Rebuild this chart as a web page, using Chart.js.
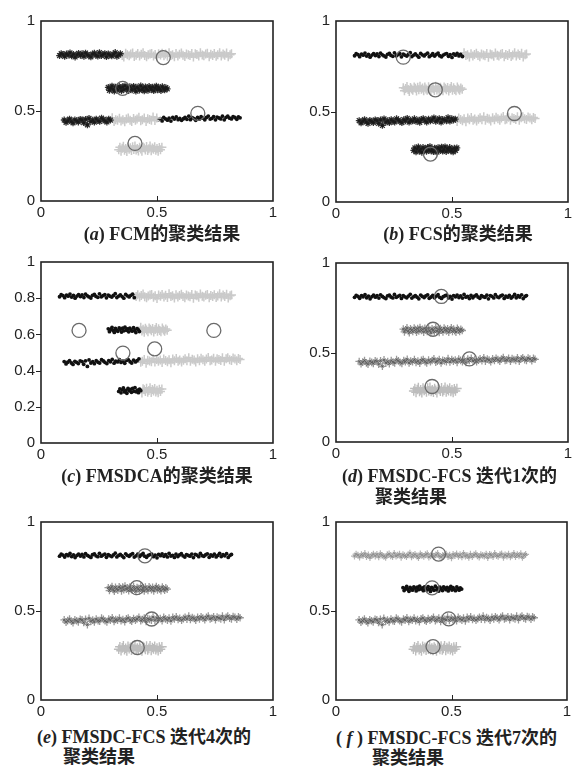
<!DOCTYPE html>
<html>
<head>
<meta charset="utf-8">
<script src="https://cdn.jsdelivr.net/npm/chart.js@4.4.1/dist/chart.umd.min.js"></script>
<style>
  body { margin: 0; background: #fff; width: 583px; height: 766px; position: relative; overflow: hidden; }
  .panel { position: absolute; }
  .cap { position: absolute; font-family: "Liberation Serif", "Noto Sans CJK SC", serif; font-weight: bold;
         font-size: 18px; line-height: 20px; color: #222; white-space: nowrap; }
</style>
</head>
<body>
<div class="panel" id="pa"><canvas id="ca"></canvas></div>
<div class="panel" id="pb"><canvas id="cb"></canvas></div>
<div class="panel" id="pc"><canvas id="cc"></canvas></div>
<div class="panel" id="pd"><canvas id="cd"></canvas></div>
<div class="panel" id="pe"><canvas id="ce"></canvas></div>
<div class="panel" id="pf"><canvas id="cf"></canvas></div>

<div class="cap" style="left:12px;top:224px;width:300px;text-align:center">(<i>a</i>) FCM的聚类结果</div>
<div class="cap" style="left:308px;top:224px;width:300px;text-align:center">(<i>b</i>) FCS的聚类结果</div>
<div class="cap" style="left:7px;top:466px;width:300px;text-align:center">(<i>c</i>) FMSDCA的聚类结果</div>
<div class="cap" style="left:342px;top:466px">(<i>d</i>) FMSDC-FCS 迭代1次的</div>
<div class="cap" style="left:375px;top:487px">聚类结果</div>
<div class="cap" style="left:37px;top:727px">(<i>e</i>) FMSDC-FCS 迭代4次的</div>
<div class="cap" style="left:63px;top:747px">聚类结果</div>
<div class="cap" style="left:336px;top:728px">( <i>f</i> ) FMSDC-FCS 迭代7次的</div>
<div class="cap" style="left:372px;top:748px">聚类结果</div>

<script>
// tick values
var xTicks = [0, 0.5, 1];
var yTicks = [0, 0.5, 1];
var yTicksFine = [0, 0.2, 0.4, 0.6, 0.8, 1];

// the four strips of samples (same data set in every panel), [x, y]
var row1 = [[0.080,0.808],[0.087,0.819],[0.095,0.814],[0.102,0.803],[0.110,0.817],[0.117,0.811],[0.125,0.823],
  [0.132,0.806],[0.140,0.815],[0.147,0.800],[0.155,0.812],[0.162,0.820],[0.170,0.809],[0.177,0.818],[0.185,0.804],
  [0.192,0.822],[0.200,0.813],[0.207,0.807],[0.215,0.801],[0.222,0.816],[0.230,0.821],[0.237,0.810],[0.245,0.805],
  [0.252,0.824],[0.260,0.808],[0.267,0.814],[0.275,0.819],[0.282,0.802],[0.290,0.817],[0.297,0.811],[0.305,0.806],
  [0.312,0.815],[0.320,0.825],[0.327,0.804],[0.335,0.812],[0.342,0.818],[0.350,0.809],[0.357,0.800],[0.365,0.821],
  [0.372,0.813],[0.380,0.807],[0.387,0.816],[0.395,0.822],[0.402,0.803],[0.410,0.810],[0.417,0.819],[0.425,0.806],
  [0.432,0.815],[0.440,0.823],[0.447,0.808],[0.455,0.802],[0.462,0.812],[0.470,0.817],[0.477,0.820],[0.485,0.805],
  [0.492,0.814],[0.500,0.799],[0.507,0.818],[0.515,0.811],[0.522,0.821],[0.530,0.807],[0.537,0.816],[0.545,0.804],
  [0.552,0.824],[0.560,0.809],[0.567,0.813],[0.575,0.801],[0.582,0.819],[0.590,0.806],[0.597,0.815],[0.605,0.822],
  [0.612,0.810],[0.620,0.803],[0.627,0.817],[0.635,0.812],[0.642,0.808],[0.650,0.820],[0.657,0.800],[0.665,0.818],
  [0.672,0.814],[0.680,0.805],[0.687,0.823],[0.695,0.811],[0.702,0.807],[0.710,0.816],[0.717,0.821],[0.725,0.802],
  [0.732,0.815],[0.740,0.809],[0.747,0.819],[0.755,0.804],[0.762,0.812],[0.770,0.824],[0.777,0.806],[0.785,0.817],
  [0.792,0.810],[0.800,0.822],[0.807,0.801],[0.815,0.813],[0.821,0.818]];
var row2 = [[0.290,0.631],[0.295,0.615],[0.300,0.627],[0.306,0.638],[0.311,0.621],[0.316,0.611],[0.321,0.633],
  [0.326,0.624],[0.331,0.617],[0.337,0.636],[0.342,0.628],[0.347,0.613],[0.352,0.634],[0.357,0.620],[0.362,0.640],
  [0.368,0.623],[0.373,0.630],[0.378,0.614],[0.383,0.635],[0.388,0.625],[0.393,0.618],[0.399,0.637],[0.404,0.622],
  [0.409,0.610],[0.414,0.632],[0.419,0.626],[0.424,0.616],[0.430,0.639],[0.435,0.619],[0.440,0.629],[0.445,0.612],
  [0.450,0.634],[0.455,0.624],[0.461,0.615],[0.466,0.636],[0.471,0.628],[0.476,0.620],[0.481,0.633],[0.486,0.613],
  [0.492,0.627],[0.497,0.638],[0.502,0.618],[0.507,0.631],[0.512,0.622],[0.517,0.614],[0.523,0.635],[0.528,0.625],
  [0.533,0.617],[0.538,0.630],[0.544,0.623]];
var row3 = [[0.100,0.450],[0.108,0.437],[0.115,0.446],[0.123,0.455],[0.131,0.442],[0.138,0.434],[0.146,0.451],
  [0.154,0.445],[0.161,0.439],[0.169,0.454],[0.177,0.450],[0.184,0.435],[0.192,0.454],[0.200,0.423],[0.207,0.459],
  [0.215,0.442],[0.223,0.449],[0.230,0.438],[0.238,0.455],[0.246,0.446],[0.253,0.442],[0.261,0.460],[0.269,0.453],
  [0.276,0.445],[0.284,0.439],[0.292,0.455],[0.299,0.449],[0.307,0.462],[0.315,0.441],[0.322,0.452],[0.330,0.448],
  [0.338,0.460],[0.345,0.445],[0.353,0.452],[0.361,0.440],[0.368,0.456],[0.376,0.461],[0.384,0.449],[0.391,0.442],
  [0.399,0.458],[0.407,0.448],[0.414,0.455],[0.422,0.465],[0.430,0.446],[0.437,0.452],[0.445,0.461],[0.453,0.441],
  [0.460,0.457],[0.468,0.453],[0.476,0.449],[0.483,0.466],[0.491,0.447],[0.499,0.461],[0.506,0.452],[0.514,0.458],
  [0.522,0.445],[0.529,0.464],[0.537,0.456],[0.545,0.449],[0.552,0.460],[0.560,0.444],[0.568,0.464],[0.575,0.455],
  [0.583,0.467],[0.591,0.452],[0.598,0.459],[0.606,0.448],[0.614,0.457],[0.621,0.465],[0.629,0.454],[0.637,0.471],
  [0.644,0.452],[0.652,0.463],[0.660,0.458],[0.667,0.448],[0.675,0.465],[0.683,0.455],[0.690,0.468],[0.698,0.460],
  [0.706,0.451],[0.713,0.464],[0.721,0.472],[0.729,0.455],[0.736,0.459],[0.744,0.468],[0.752,0.451],[0.759,0.466],
  [0.767,0.461],[0.775,0.456],[0.782,0.471],[0.790,0.451],[0.798,0.465],[0.805,0.471],[0.813,0.460],[0.821,0.456],
  [0.828,0.469],[0.836,0.464],[0.844,0.454],[0.851,0.467],[0.858,0.462]];
var row4 = [[0.335,0.285],[0.340,0.299],[0.345,0.277],[0.350,0.293],[0.355,0.304],[0.360,0.282],[0.365,0.291],
  [0.370,0.275],[0.375,0.301],[0.380,0.288],[0.385,0.296],[0.390,0.280],[0.395,0.302],[0.400,0.286],[0.405,0.306],
  [0.410,0.283],[0.415,0.292],[0.420,0.278],[0.425,0.298],[0.430,0.289],[0.435,0.276],[0.440,0.300],[0.445,0.294],
  [0.450,0.284],[0.455,0.303],[0.460,0.281],[0.465,0.290],[0.470,0.305],[0.475,0.279],[0.480,0.295],[0.485,0.287],
  [0.490,0.301],[0.495,0.282],[0.500,0.292],[0.505,0.277],[0.510,0.297],[0.515,0.285],[0.521,0.299]];

// cluster centres found by each method
var centersA = [[0.527,0.797],[0.352,0.626],[0.676,0.487],[0.405,0.320]];
var centersB = [[0.290,0.800],[0.428,0.620],[0.769,0.489],[0.407,0.265]];
var centersC = [[0.164,0.622],[0.745,0.622],[0.353,0.497],[0.490,0.520]];
var centersD = [[0.454,0.813],[0.418,0.630],[0.575,0.464],[0.414,0.310]];
var centersE = [[0.448,0.810],[0.413,0.631],[0.477,0.455],[0.415,0.295]];
var centersF = [[0.444,0.820],[0.416,0.630],[0.488,0.456],[0.420,0.300]];

// cluster membership per strip: [upper x bound, cluster shade]
var splitsA = [[[0.35,'dark'],[2,'light']], [[2,'dark']], [[0.30,'dark'],[0.50,'light'],[2,'black']], [[2,'light']]];
var splitsB = [[[0.55,'black'],[2,'light']], [[2,'light']], [[0.52,'dark'],[2,'light']], [[2,'dark']]];
var splitsC = [[[0.41,'black'],[2,'light']], [[0.43,'black'],[2,'light']], [[0.43,'black'],[2,'light']], [[0.435,'black'],[2,'light']]];
var splitsD = [[[2,'black']], [[2,'mid']], [[2,'mid']], [[2,'pale']]];
var splitsE = [[[2,'black']], [[2,'mid']], [[2,'mid']], [[2,'pale']]];
var splitsF = [[[2,'soft']], [[2,'black']], [[2,'mid']], [[2,'pale']]];

var rows = [row1, row2, row3, row4];

// marker layers, bottom first
var shades = {
  black: [{ s: 'circle', r: 1.9, c: '#111', w: 0, fill: true }],
  dark:  [{ s: 'star', r: 3.4, c: '#333', w: 1.3 }, { s: 'circle', r: 1.5, c: '#1a1a1a', w: 0, fill: true }],
  light: [{ s: 'cross', r: 4.5, c: '#cacaca', w: 1.5 }],
  mid:   [{ s: 'cross', r: 3.8, c: '#999', w: 1.3 }, { s: 'crossRot', r: 2, c: '#5a5a5a', w: 0.9 }],
  soft:  [{ s: 'cross', r: 3.4, c: '#b4b4b4', w: 1.2 }, { s: 'crossRot', r: 2, c: '#8a8a8a', w: 0.9 }],
  pale:  [{ s: 'cross', r: 4.8, c: '#bdbdbd', w: 1.4 }]
};

var framePlugin = {
  id: 'frame',
  afterDraw: function (chart) {
    var ctx = chart.ctx, a = chart.chartArea;
    ctx.save();
    ctx.strokeStyle = '#222';
    ctx.lineWidth = 1.6;
    ctx.strokeRect(a.left, a.top, a.right - a.left, a.bottom - a.top);
    ctx.lineWidth = 1;
    chart.scales.y.ticks.forEach(function (t) {
      if (t.value <= 0 || t.value >= 1) return;
      var py = Math.round(chart.scales.y.getPixelForValue(t.value)) + 0.5;
      ctx.beginPath(); ctx.moveTo(a.left - 5, py); ctx.lineTo(a.left, py); ctx.stroke();
    });
    chart.scales.x.ticks.forEach(function (t) {
      if (t.value <= 0 || t.value >= 1) return;
      var px = Math.round(chart.scales.x.getPixelForValue(t.value)) + 0.5;
      ctx.beginPath(); ctx.moveTo(px, a.bottom); ctx.lineTo(px, a.bottom - 5); ctx.stroke();
    });
    ctx.restore();
  }
};

function buildDatasets(splits, centers) {
  var ds = [{
    data: centers.map(function (p) { return { x: p[0], y: p[1] }; }),
    pointStyle: 'circle', pointRadius: 7, pointBorderWidth: 1.3,
    pointBorderColor: '#6a6a6a', pointBackgroundColor: 'rgba(0,0,0,0)', order: -1
  }];
  rows.forEach(function (row, i) {
    var lo = -1;
    splits[i].forEach(function (cut) {
      var pts = row.filter(function (p) { return p[0] >= lo && p[0] < cut[0]; })
                   .map(function (p) { return { x: p[0], y: p[1] }; });
      lo = cut[0];
      shades[cut[1]].forEach(function (m, k) {
        ds.push({
          data: pts, pointStyle: m.s, pointRadius: m.r, pointBorderWidth: m.w,
          pointBorderColor: m.c, pointBackgroundColor: m.fill ? m.c : 'rgba(0,0,0,0)',
          order: 5 - k
        });
      });
    });
  });
  return ds;
}

function axis(values, fit, pad) {
  return {
    type: 'linear', min: 0, max: 1,
    grid: { display: false, drawTicks: false },
    border: { display: false },
    afterBuildTicks: function (s) { s.ticks = values.map(function (v) { return { value: v }; }); },
    afterFit: fit,
    ticks: {
      color: '#222', font: { family: 'Liberation Sans', size: 15 }, padding: pad, maxRotation: 0,
      callback: function (v) { return String(v); }
    }
  };
}

function makePanel(id, box, splits, centers, yVals) {
  var wrap = document.getElementById('p' + id);
  var cv = document.getElementById('c' + id);
  var w = box.r - box.l + 41 + 12, h = box.b - box.t + 10 + 24;
  wrap.style.left = (box.l - 41) + 'px';
  wrap.style.top = (box.t - 10) + 'px';
  cv.width = w; cv.height = h;
  cv.style.width = w + 'px'; cv.style.height = h + 'px';
  new Chart(cv.getContext('2d'), {
    type: 'scatter',
    data: { datasets: buildDatasets(splits, centers) },
    options: {
      responsive: false, animation: false, devicePixelRatio: 1, events: [],
      layout: { padding: { top: 10, right: 12, left: 0, bottom: 0 } },
      plugins: { legend: { display: false }, tooltip: { enabled: false } },
      scales: {
        x: axis(xTicks, function (s) { s.height = 24; }, 3),
        y: axis(yVals, function (s) { s.width = 41; }, 6)
      }
    },
    plugins: [framePlugin]
  });
}

makePanel('a', { l: 41, t: 16, r: 273, b: 201 }, splitsA, centersA, yTicks);
makePanel('b', { l: 336, t: 16, r: 568, b: 202 }, splitsB, centersB, yTicks);
makePanel('c', { l: 41, t: 257, r: 273, b: 443 }, splitsC, centersC, yTicksFine);
makePanel('d', { l: 336, t: 258, r: 568, b: 442 }, splitsD, centersD, yTicks);
makePanel('e', { l: 41, t: 517, r: 273, b: 700 }, splitsE, centersE, yTicks);
makePanel('f', { l: 336, t: 517, r: 567, b: 700 }, splitsF, centersF, yTicks);
</script>
</body>
</html>
